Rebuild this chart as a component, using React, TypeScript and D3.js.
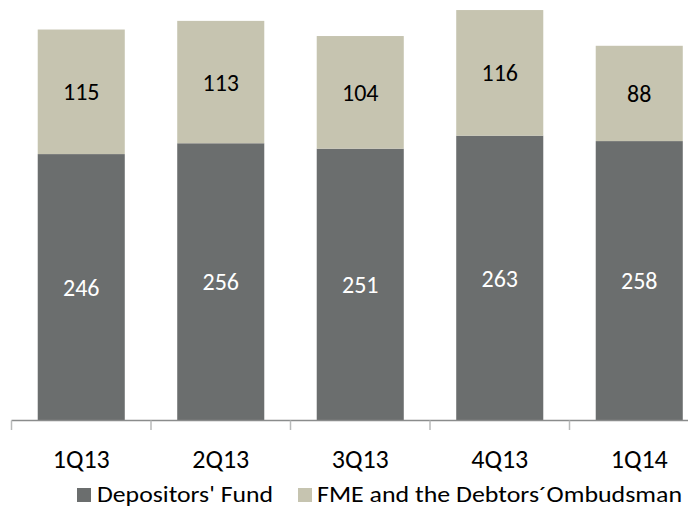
import React from "react";
import * as d3 from "d3";

const categories = ["1Q13", "2Q13", "3Q13", "4Q13", "1Q14"];
const depositorsFund = [246, 256, 251, 263, 258];
const fmeOmbudsman = [115, 113, 104, 116, 88];
const seriesNames = ["Depositors' Fund", "FME and the Debtors´Ombudsman"];
const colors = ["#6b6e6e", "#c6c4b0"];

const W = 688;
const H = 507;
const FONT = "Carlito, Lato, 'Open Sans', sans-serif";

export default function App() {
  const x = d3.scaleBand<string>().domain(categories).range([11.5, 709]).paddingInner(0.376).paddingOuter(0.188);
  const y = d3.scaleLinear().domain([0, 400]).range([420.5, 420.5 - 433.2]);

  const rows = categories.map((c, i) => ({ cat: c, dep: depositorsFund[i], fme: fmeOmbudsman[i] }));
  const stacked = d3.stack<any>().keys(["dep", "fme"])(rows);
  const tickEdges = categories.map((c) => (x(c) as number) - (x.step() * x.paddingInner()) / 2);

  return (
    <svg width={W} height={H} style={{ position: "absolute", left: 0, top: 0, background: "#fff" }}>
      {stacked.map((s, si) =>
        s.map((d, i) => {
          const x0 = x(categories[i]) as number;
          const y0 = y(d[1]);
          const y1 = y(d[0]);
          return (
            <g key={`${si}-${i}`}>
              <rect x={x0} y={y0} width={x.bandwidth()} height={y1 - y0} fill={colors[si]} />
              <text
                x={x0 + x.bandwidth() / 2}
                y={(y0 + y1) / 2 + 8.5}
                textAnchor="middle"
                fontFamily={FONT}
                fontSize={24}
                fill={si === 0 ? "#ffffff" : "#000000"}
              >
                {si === 0 ? depositorsFund[i] : fmeOmbudsman[i]}
              </text>
            </g>
          );
        })
      )}
      <line x1={11.5} x2={W} y1={420.5} y2={420.5} stroke="#8a8c8c" strokeWidth={1.5} />
      {tickEdges.map((t, i) => (
        <line key={i} x1={t} x2={t} y1={420.5} y2={430} stroke="#b8baba" strokeWidth={1.5} />
      ))}
      {categories.map((c) => (
        <text
          key={c}
          x={(x(c) as number) + x.bandwidth() / 2}
          y={468}
          textAnchor="middle"
          fontFamily={FONT}
          fontSize={26}
          fill="#000"
        >
          {c}
        </text>
      ))}
      <g>
        <rect x={77} y={488} width={14} height={14} fill={colors[0]} />
        <text x={97} y={501.5} fontFamily={FONT} fontSize={22.5} fill="#000" textLength={176} lengthAdjust="spacingAndGlyphs">
          {seriesNames[0]}
        </text>
        <rect x={298} y={488} width={14} height={14} fill={colors[1]} />
        <text x={317} y={501.5} fontFamily={FONT} fontSize={22.5} fill="#000" textLength={365} lengthAdjust="spacingAndGlyphs">
          {seriesNames[1]}
        </text>
      </g>
    </svg>
  );
}
